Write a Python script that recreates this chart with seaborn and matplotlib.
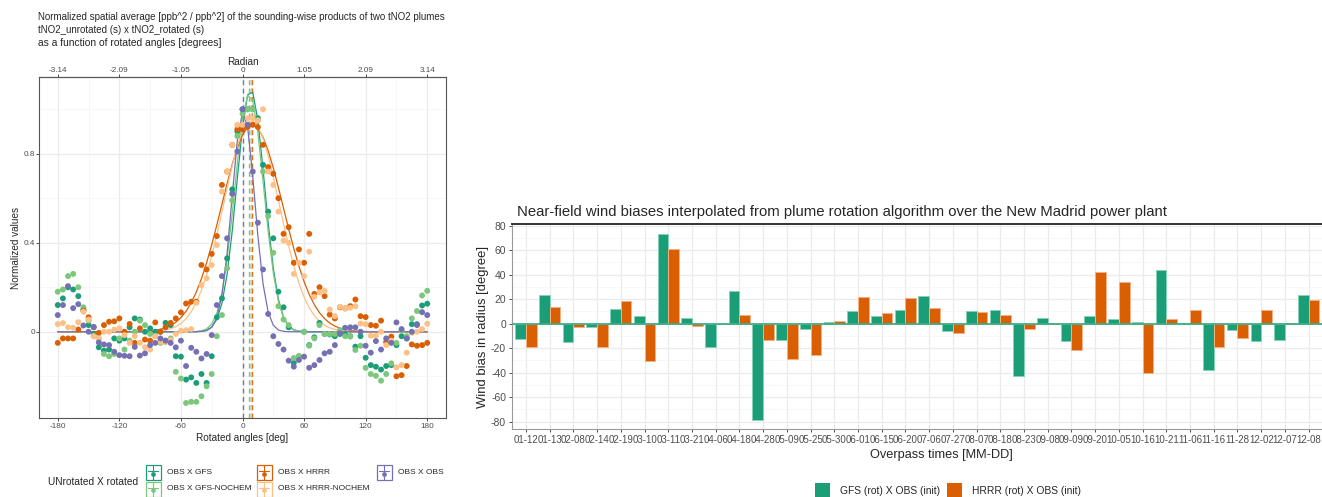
import numpy as np
import pandas as pd
import matplotlib
matplotlib.use("Agg")
import matplotlib.pyplot as plt
from matplotlib.patches import Rectangle
from matplotlib.lines import Line2D
import seaborn as sns

# ---------------------------------------------------------------- data
angles = list(range(-180, 185, 5))

pairs = ["OBS X GFS", "OBS X GFS-NOCHEM", "OBS X HRRR", "OBS X HRRR-NOCHEM", "OBS X OBS"]
pair_colors = ["#1B9E77", "#7CC77C", "#D95F02", "#FDC086", "#7570B3"]

obs_gfs = [0.12, 0.15, 0.20, 0.19, 0.16, 0.10, 0.03, -0.01, -0.07, -0.085, -0.08, -0.03, -0.04,
           -0.03, 0.02, 0.06, 0.055, 0.0, 0.015, 0.0, 0.0, 0.04, 0.03, -0.11, -0.112, -0.215,
           -0.205, -0.23, -0.19, -0.23, -0.11, 0.065, 0.15, 0.33, 0.64, 0.90, 1.0, 1.0, 1.0,
           0.96, 0.75, 0.54, 0.42, 0.18, 0.11, 0.02, -0.14, -0.11, 0.0, -0.06, -0.025, 0.04,
           -0.01, -0.012, -0.02, -0.01, -0.012, -0.02, -0.067, -0.02, -0.117, -0.15, -0.157,
           -0.17, -0.154, -0.15, -0.06, -0.02, -0.03, 0.034, 0.034, 0.118, 0.126]
obs_gfs_nochem = [0.18, 0.19, 0.25, 0.26, 0.20, 0.11, 0.05, -0.02, -0.03, -0.10, -0.11, -0.10,
                  -0.03, -0.08, -0.04, 0.0, 0.05, 0.03, -0.01, -0.02, -0.05, -0.04, -0.03, -0.18,
                  -0.21, -0.32, -0.315, -0.315, -0.29, -0.245, -0.19, -0.02, 0.075, 0.285, 0.59,
                  0.88, 0.98, 1.0, 1.0, 0.95, 0.72, 0.52, 0.355, 0.115, 0.055, 0.03, -0.118, -0.11,
                  0.0, -0.063, -0.03, 0.03, -0.01, -0.01, -0.01, 0.007, -0.02, -0.022, -0.082,
                  -0.063, -0.162, -0.19, -0.198, -0.22, -0.19, -0.142, -0.05, 0.005, -0.02, 0.06,
                  0.093, 0.163, 0.184]
obs_hrrr = [-0.05, -0.03, -0.03, -0.03, 0.01, 0.095, 0.065, 0.02, -0.005, 0.03, 0.045, 0.047,
            0.06, 0.0, 0.035, -0.05, 0.015, -0.035, -0.04, 0.042, 0.0, 0.02, 0.04, 0.06, 0.087,
            0.127, 0.135, 0.135, 0.30, 0.28, 0.35, 0.43, 0.66, 0.72, 0.84, 0.91, 0.91, 0.92,
            0.93, 0.92, 0.84, 0.74, 0.71, 0.60, 0.44, 0.47, 0.31, 0.37, 0.31, 0.44, 0.17, 0.20,
            0.16, 0.077, 0.06, 0.11, 0.105, 0.115, 0.145, 0.07, 0.066, 0.03, 0.027, 0.05,
            -0.046, -0.022, -0.20, -0.195, -0.154, -0.057, -0.063, -0.06, -0.05]
obs_hrrr_nochem = [0.034, 0.039, 0.02, 0.018, 0.043, 0.09, 0.055, -0.02, -0.03, 0.0, 0.0, 0.01,
                   0.015, -0.015, -0.05, -0.02, -0.05, -0.07, -0.08, -0.02, -0.045, -0.048,
                   -0.037, -0.01, 0.004, 0.007, 0.012, 0.13, 0.21, 0.24, 0.30, 0.39, 0.63, 0.72,
                   0.84, 0.93, 0.93, 0.96, 0.96, 0.95, 1.0, 0.72, 0.66, 0.54, 0.41, 0.40, 0.26,
                   0.31, 0.25, 0.36, 0.157, 0.177, 0.184, 0.10, 0.07, 0.112, 0.105, 0.108, 0.115,
                   0.037, 0.034, -0.018, -0.018, 0.0, -0.06, -0.04, -0.16, -0.15, -0.094,
                   -0.005, 0.0, 0.012, 0.036]
obs_obs = [0.075, 0.12, 0.205, 0.106, 0.124, 0.028, 0.0, 0.022, -0.048, -0.057, -0.06, -0.09,
           -0.105, -0.108, -0.11, -0.068, -0.107, -0.097, -0.06, -0.05, -0.03, -0.04, -0.05,
           -0.07, -0.04, -0.154, -0.072, -0.09, -0.12, -0.10, -0.015, 0.12, 0.25, 0.42, 0.62,
           0.81, 1.0, 0.93, 0.72, 0.49, 0.28, 0.08, -0.02, -0.055, -0.08, -0.13, -0.157, -0.127,
           -0.112, -0.162, -0.15, -0.127, -0.097, -0.09, -0.06, -0.007, 0.018, 0.02, 0.02, 0.0,
           -0.063, -0.094, -0.042, -0.08, -0.03, -0.05, 0.042, 0.012, -0.03, 0.0, 0.03, 0.088,
           0.075]

# Gaussian fit parameters per pair: amplitude, centre [deg], width [deg]
fit_amp = [1.09, 1.07, 0.93, 0.95, 0.99]
fit_center = [7.9, 6.6, 9.5, 8.7, 0.8]
fit_sigma = [13.5, 14.0, 30.0, 27.0, 11.0]

deg_ticks = [-180, -120, -60, 0, 60, 120, 180]
rad_labels = ["-3.14", "-2.09", "-1.05", "0", "1.05", "2.09", "3.14"]

dates = ["01-12", "01-13", "02-08", "02-14", "02-19", "03-10", "03-11", "03-21", "04-06",
         "04-18", "04-28", "05-09", "05-25", "05-30", "06-01", "06-15", "06-20", "07-06",
         "07-27", "08-07", "08-18", "08-23", "09-08", "09-09", "09-20", "10-05", "10-16",
         "10-21", "11-06", "11-16", "11-28", "12-02", "12-07", "12-08"]
gfs_bias = [-12.2, 23.0, -14.6, -2.4, 11.9, 6.2, 73.5, 4.9, -19.0, 26.6, -78.4, -13.6, -4.3,
            1.6, 10.3, 6.0, 11.4, 22.2, -6.0, 10.6, 11.4, -42.8, 4.9, -14.4, 6.0, 3.8, 1.6,
            43.9, 0.8, -38.2, -4.9, -13.8, -13.6, 23.3]
hrrr_bias = [-19.0, 13.6, -2.7, -19.0, 18.2, -30.4, 61.3, -1.6, -0.5, 7.3, -13.3, -28.5, -25.2,
             2.4, 22.0, 8.4, 21.2, 12.5, -7.9, 9.5, 7.0, -4.1, 0.8, -21.4, 41.8, 33.9, -40.4,
             4.1, 11.4, -19.0, -11.7, 11.4, 0.5, 19.5]
bias_models = ["GFS (rot) X OBS (init)", "HRRR (rot) X OBS (init)"]
bias_colors = ["#1B9E77", "#D95F02"]
bias_edges = ["#86D3B8", "#F2B184"]

# ---------------------------------------------------------------- frames
series = [obs_gfs, obs_gfs_nochem, obs_hrrr, obs_hrrr_nochem, obs_obs]
rows = []
for name, vals, a, c, s in zip(pairs, series, fit_amp, fit_center, fit_sigma):
    for ang, v in zip(angles, vals):
        fit = a * np.exp(-((ang - c) ** 2) / (2.0 * s ** 2))
        rows.append({"angle": ang, "value": v, "fit": fit, "pair": name})
prod = pd.DataFrame(rows)

bias = pd.DataFrame({
    "date": dates * 2,
    "bias": gfs_bias + hrrr_bias,
    "model": [bias_models[0]] * len(dates) + [bias_models[1]] * len(dates),
})

# ---------------------------------------------------------------- style
sns.set_theme(style="white")
plt.rcParams["font.family"] = ["Liberation Sans", "DejaVu Sans"]
plt.rcParams["axes.unicode_minus"] = False
W, H = 1322, 497
fig = plt.figure(figsize=(W / 100, H / 100), dpi=100)
palette = dict(zip(pairs, pair_colors))
grid_major = "#EBEBEB"
grid_minor = "#F4F4F4"
tick_col = "#4D4D4D"


def px_axes(x0, y0, x1, y1):
    return fig.add_axes([x0 / W, 1 - y1 / H, (x1 - x0) / W, (y1 - y0) / H])


# ---------------------------------------------------------------- left panel
axL = px_axes(39.3, 77, 445.7, 418.3)
axL.set_xlim(-198, 198)
axL.set_ylim(-0.389, 1.145)
axL.set_xticks(deg_ticks)
axL.set_xticks([-150, -90, -30, 30, 90, 150], minor=True)
axL.set_yticks([0, 0.4, 0.8])
axL.set_yticklabels(["0", "0.4", "0.8"])
axL.set_yticks([-0.2, 0.2, 0.6, 1.0], minor=True)
axL.grid(True, which="major", color=grid_major, lw=0.9, zorder=0)
axL.grid(True, which="minor", color=grid_minor, lw=0.5, zorder=0)
axL.set_axisbelow(True)

for c, name in zip(fit_center, pairs):
    axL.axvline(c, color=palette[name], lw=1.0, ls=(0, (3.5, 2.5)), zorder=1)

sns.lineplot(data=prod, x="angle", y="fit", hue="pair", hue_order=pairs, palette=palette,
             estimator=None, lw=0.9, legend=False, ax=axL, zorder=2)
sns.scatterplot(data=prod, x="angle", y="value", hue="pair", hue_order=pairs,
                palette=palette, s=18, linewidth=0, legend=False, ax=axL, zorder=3)

axL.tick_params(axis="both", which="major", length=2, width=0.6, color="#333333",
                labelsize=5.9, labelcolor=tick_col, pad=1.2, bottom=True, left=True)
axL.tick_params(which="minor", length=0)
axL.set_xlabel("Rotated angles [deg]", fontsize=7.2, labelpad=2.5)
axL.set_ylabel("Normalized values", fontsize=7.2, labelpad=1.5)
for sp in axL.spines.values():
    sp.set_color("#555555")
    sp.set_linewidth(0.8)

topax = axL.secondary_xaxis("top")
topax.set_xticks(deg_ticks)
topax.set_xticklabels(rad_labels)
topax.tick_params(length=2, width=0.6, color="#333333", labelsize=5.9,
                  labelcolor=tick_col, pad=0.4)
topax.set_xlabel("Radian", fontsize=7.2, labelpad=1.5)
topax.spines["top"].set_color("#555555")
topax.spines["top"].set_linewidth(0.8)

# ---------------------------------------------------------------- right panel
axR = px_axes(511.7, 224.3, 1370.3, 429)
sns.barplot(data=bias, x="date", y="bias", hue="model", hue_order=bias_models,
            palette=bias_colors, width=0.9, saturation=1, legend=False, ax=axR, zorder=2)
for cont, ec in zip(axR.containers, bias_edges):
    for bar in cont:
        bar.set_edgecolor(ec)
        bar.set_linewidth(0.7)
axR.axhline(0, color="#3FAE88", lw=1.3, zorder=3)
axR.set_xlim(-0.6, len(dates) + 1.6)
axR.set_ylim(-86, 81.1)
axR.set_yticks(range(-80, 81, 20))
axR.set_yticks(range(-70, 81, 20), minor=True)
axR.grid(True, which="major", color=grid_major, lw=0.9, zorder=0)
axR.grid(True, which="minor", axis="y", color=grid_minor, lw=0.5, zorder=0)
axR.set_axisbelow(True)
axR.tick_params(axis="both", which="major", length=2.5, width=0.6, color="#333333",
                labelcolor=tick_col, pad=1.5, bottom=True, left=True)
axR.tick_params(axis="y", labelsize=7.5)
axR.tick_params(axis="x", labelsize=7.0)
axR.tick_params(which="minor", length=0)
axR.set_xlabel("Overpass times [MM-DD]", fontsize=9.2, labelpad=3)
axR.set_ylabel("Wind bias in radius [degree]", fontsize=9.4, labelpad=1.5)
axR.set_title("Near-field wind biases interpolated from plume rotation algorithm over the "
              "New Madrid power plant", fontsize=10.7, loc="left", x=0.006, pad=6)
axR.spines["top"].set_color("#333333")
axR.spines["top"].set_linewidth(1.4)
for side in ["left", "bottom"]:
    axR.spines[side].set_color("#9A9A9A")
    axR.spines[side].set_linewidth(0.8)
axR.spines["right"].set_visible(False)

# ---------------------------------------------------------------- annotations
ov = fig.add_axes([0, 0, 1, 1], zorder=5)
ov.set_xlim(0, W)
ov.set_ylim(H, 0)
ov.axis("off")

ov.text(38, 17.5, "Normalized spatial average [ppb^2 / ppb^2] of the sounding-wise products "
        "of two tNO2 plumes", fontsize=7.0, va="center", ha="left")
ov.text(38, 30, "tNO2_unrotated (s) x tNO2_rotated (s)", fontsize=7.0, va="center", ha="left")
ov.text(38, 42.5, "as a function of rotated angles [degrees]", fontsize=7.4, va="center",
        ha="left")

# legend of the product curves
ov.text(48, 482, "UNrotated X rotated", fontsize=7.3, va="center", ha="left")
key_pos = [(153, 472.5), (153, 489), (264, 472.5), (264, 489), (384, 472.5)]
for (cx, cy), name in zip(key_pos, pairs):
    col = palette[name]
    ov.add_patch(Rectangle((cx - 7.5, cy - 7.5), 15, 15, fill=False, ec=col, lw=0.9))
    ov.add_line(Line2D([cx, cx], [cy - 7.5, cy + 7.5], color=col, lw=0.8))
    ov.add_line(Line2D([cx - 5, cx + 5], [cy - 1.5, cy - 1.5], color=col, lw=0.8))
    ov.plot([cx], [cy + 1], "o", ms=3.4, color=col, mec="none")
    ov.text(cx + 14, cy, name, fontsize=6.0, va="center", ha="left")

# legend of the wind-bias bars
for x0, col, lab in zip([815, 947], bias_colors, bias_models):
    ov.add_patch(Rectangle((x0, 483), 15, 15, color=col, lw=0))
    ov.text(x0 + 25, 490.5, lab, fontsize=7.4, va="center", ha="left")

fig.savefig("out.png", dpi=100)
